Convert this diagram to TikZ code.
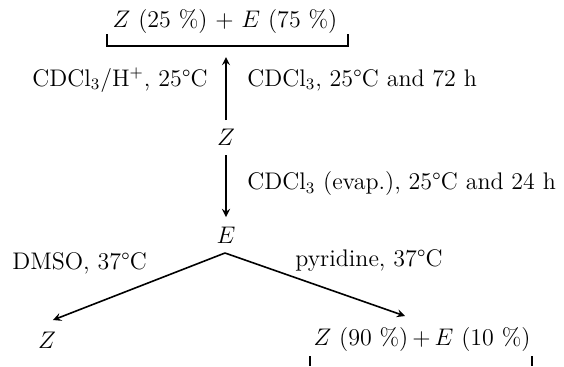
\documentclass[tikz,border=0pt]{standalone}
\usepackage{amsmath}
\usetikzlibrary{arrows}

\begin{document}
\begin{tikzpicture}[x=0.5pt,y=-0.5pt,>=stealth,font=\large]
\tikzset{cond/.style={inner sep=0pt},
  rxn/.style={thick,->}}
\useasboundingbox (0,0) rectangle (564,366);

% species
\node[cond] (top) at (225,22) {$Z$ (25 \%) + $E$ (75 \%)};
\node[cond] (z) at (226,137) {$Z$};
\node[cond] (e) at (226,235) {$E$};
\node[cond] (zl) at (47,340) {$Z$};
\node[cond] (mix) at (422,340) {$Z$ (90 \%)\,+\,$E$ (10 \%)};

% brackets
\draw[thick] (107,34) -- (107,46) -- (348,46) -- (348,34);
\draw[thick] (310,356) -- (310,366);
\draw[thick] (532,356) -- (532,366);

% arrows
\coordinate (brk) at (226,57);
\coordinate (fork) at (225,253);
\coordinate (tipl) at (53,320);
\coordinate (tipr) at (405,316);
\draw[rxn] ([yshift=8.5pt]z.center) -- (brk);
\draw[rxn] ([yshift=-9pt]z.center) -- ([yshift=9pt]e.center);
\draw[rxn] (fork) -- (tipl);
\draw[rxn] (fork) -- (tipr);

% conditions
\node[cond,anchor=east] (c1) at (208,80) {CDCl$_3$/H$^+$, 25\textdegree C};
\node[cond,anchor=west] (c2) at (247,80) {CDCl$_3$, 25\textdegree C and 72 h};
\node[cond,anchor=west] (c3) at (247,184) {CDCl$_3$ (evap.), 25\textdegree C and 24 h};
\node[cond,anchor=west] (c4) at (12,263) {DMSO, 37\textdegree C};
\node[cond,anchor=west] (c5) at (295,260) {pyridine, 37\textdegree C};
\end{tikzpicture}
\end{document}
